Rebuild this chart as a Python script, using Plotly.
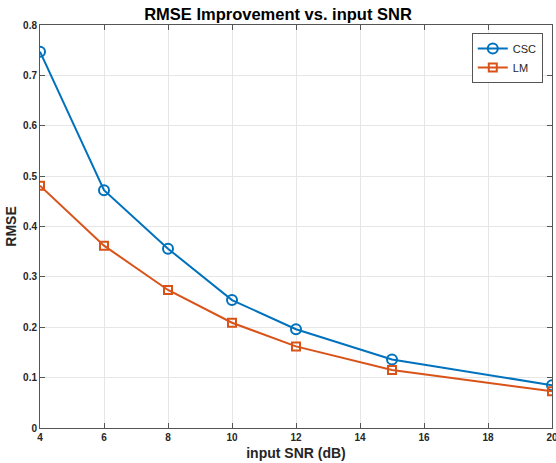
import plotly.graph_objects as go

snr = [4, 6, 8, 10, 12, 15, 20]
csc = [0.747, 0.472, 0.356, 0.254, 0.196, 0.136, 0.085]
lm = [0.481, 0.362, 0.274, 0.209, 0.162, 0.115, 0.073]
x_ticks = [4, 6, 8, 10, 12, 14, 16, 18, 20]
y_ticks = [0, 0.1, 0.2, 0.3, 0.4, 0.5, 0.6, 0.7, 0.8]
y_labels = ["0", "0.1", "0.2", "0.3", "0.4", "0.5", "0.6", "0.7", "0.8"]

FONT = "Helvetica, Liberation Sans, Arial, sans-serif"

fig = go.Figure()
fig.add_trace(go.Scatter(
    x=snr, y=csc, name="CSC", mode="lines+markers",
    line=dict(color="#0072BD", width=2),
    marker=dict(symbol="circle-open", size=10, color="#0072BD", line=dict(width=2)),
))
fig.add_trace(go.Scatter(
    x=snr, y=lm, name="LM", mode="lines+markers",
    line=dict(color="#D95319", width=2),
    marker=dict(symbol="square-open", size=8, color="#D95319", line=dict(width=2)),
))

axis_common = dict(
    showgrid=True, gridcolor="#e6e6e6", gridwidth=1,
    showline=True, linecolor="#555555", linewidth=1, mirror="ticks",
    ticks="inside", ticklen=5, tickcolor="#555555",
    zeroline=False, ticklabeloverflow="allow", automargin=False,
    tickfont=dict(family=FONT, size=10, color="#262626", weight="bold"),
)

fig.update_layout(
    width=556, height=463,
    margin=dict(l=40, r=4, t=25, b=35),
    paper_bgcolor="white", plot_bgcolor="white",
    title=dict(text="<b>RMSE Improvement vs. input SNR</b>", x=0.5, xanchor="center",
               y=0.970, yanchor="middle",
               font=dict(family=FONT, size=16.5, color="black")),
    xaxis=dict(range=[4, 20], tickvals=x_ticks,
               title=dict(text="<b>input SNR (dB)</b>", standoff=6,
                          font=dict(family=FONT, size=14, color="#262626")),
               **axis_common),
    yaxis=dict(range=[0, 0.8], tickvals=y_ticks, ticktext=y_labels,
               title=dict(text="<b>RMSE</b>", standoff=3,
                          font=dict(family=FONT, size=14, color="#262626")),
               **axis_common),
    legend=dict(x=0.982, xanchor="right", y=0.98, yanchor="top",
                bgcolor="white", bordercolor="#555555", borderwidth=1,
                font=dict(family=FONT, size=11, color="#262626"),
                itemwidth=30, tracegroupgap=0),
    showlegend=True,
)

fig.write_html("out.html")
